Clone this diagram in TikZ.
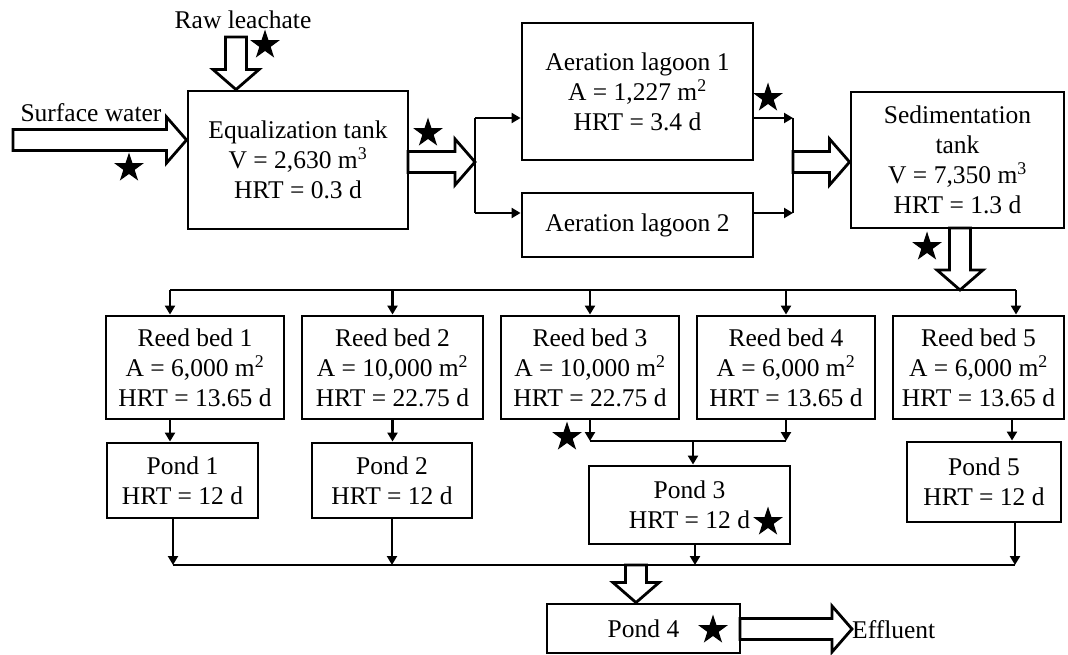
\documentclass[tikz,border=0pt]{standalone}
\usepackage{fontspec}
\setmainfont{Liberation Serif}
\usetikzlibrary{arrows.meta,calc,shapes.geometric}
\newcommand{\blkright}[2]{%
  \draw[blk] let \p1=(#1), \p2=(#2) in
    (\x1,\y1+10.5pt) -- (\x2-20pt,\y1+10.5pt) -- (\x2-20pt,\y1+23pt) -- (\x2,\y1)
    -- (\x2-20pt,\y1-23pt) -- (\x2-20pt,\y1-10.5pt) -- (\x1,\y1-10.5pt) -- cycle;}
\newcommand{\blkdown}[2]{%
  \draw[blk] let \p1=(#1), \p2=(#2) in
    (\x1-10.5pt,\y1) -- (\x1-10.5pt,\y2+20pt) -- (\x1-23pt,\y2+20pt) -- (\x1,\y2)
    -- (\x1+23pt,\y2+20pt) -- (\x1+10.5pt,\y2+20pt) -- (\x1+10.5pt,\y1) -- cycle;}
\begin{document}
\begin{tikzpicture}[x=1pt,y=-1pt,
  font=\fontsize{25.5}{30}\selectfont,
  box/.style={draw, line width=2.9pt, align=center, inner sep=0pt},
  conn/.style={line width=2.6pt, -{Triangle[length=9pt,width=10pt]}},
  plain/.style={line width=2.6pt},
  blk/.style={draw, line width=2.8pt, fill=white, line join=miter},
  starmark/.style={star, star points=5, star point ratio=2.6, fill=black, draw=none, inner sep=0pt, minimum size=31pt}
]
\useasboundingbox (0,0) rectangle (1068,655);

% boxes
\node[box, minimum width=220pt, minimum height=138pt] (eq) at (298,160) {Equalization tank\\V = 2,630 m\textsuperscript{3}\\HRT = 0.3 d};
\node[box, minimum width=231pt, minimum height=137pt] (lag1) at (637.5,91.5) {Aeration lagoon 1\\A = 1,227 m\textsuperscript{2}\\HRT = 3.4 d};
\node[box, minimum width=231pt, minimum height=64pt] (lag2) at (637.5,225) {Aeration lagoon 2};
\node[box, minimum width=213pt, minimum height=136pt] (sed) at (957.5,160) {Sedimentation\\tank\\V = 7,350 m\textsuperscript{3}\\HRT = 1.3 d};

\node[box, minimum width=178pt, minimum height=103pt] (rb1) at (195,367.5) {Reed bed 1\\A = 6,000 m\textsuperscript{2}\\HRT = 13.65 d};
\node[box, minimum width=181pt, minimum height=103pt] (rb2) at (392.5,367.5) {Reed bed 2\\A = 10,000 m\textsuperscript{2}\\HRT = 22.75 d};
\node[box, minimum width=178pt, minimum height=103pt] (rb3) at (590,367.5) {Reed bed 3\\A = 10,000 m\textsuperscript{2}\\HRT = 22.75 d};
\node[box, minimum width=178pt, minimum height=103pt] (rb4) at (786,367.5) {Reed bed 4\\A = 6,000 m\textsuperscript{2}\\HRT = 13.65 d};
\node[box, minimum width=171pt, minimum height=103pt] (rb5) at (978.5,367.5) {Reed bed 5\\A = 6,000 m\textsuperscript{2}\\HRT = 13.65 d};

\node[box, minimum width=151pt, minimum height=75pt] (p1) at (182.5,480.5) {Pond 1\\HRT = 12 d};
\node[box, minimum width=160pt, minimum height=75pt] (p2) at (392,480.5) {Pond 2\\HRT = 12 d};
\node[box, minimum width=201pt, minimum height=78pt] (p3) at (689.5,505) {Pond 3\\HRT = 12 d};
\node[box, minimum width=154pt, minimum height=80pt] (p5) at (984,482) {Pond 5\\HRT = 12 d};
\node[box, minimum width=193pt, minimum height=49pt] (p4) at (643.5,628.5) {Pond 4};

% free labels
\node (raw) at (243,20) {Raw leachate};
\node (surf) at (91,113) {Surface water};
\node[anchor=west, inner sep=0pt] (eff) at (852,630) {Effluent};

% coordinates
\coordinate (rawtop) at (236,37);
\coordinate (surfstart) at (13,140);
\coordinate (eqout) at (408,162);
\coordinate (br1) at (475,118);
\coordinate (br2) at (475,213);
\coordinate (mg1) at (793,118);
\coordinate (mg2) at (793,213);
\coordinate (mgmid) at (793,162);
\coordinate (sedout) at (960,228);
\coordinate (distL) at (170,290);
\coordinate (distR) at (1016,290);
\coordinate (m34L) at (590,441);
\coordinate (m34R) at (786,441);
\coordinate (m34) at (693,441);
\coordinate (r5o) at (1012,419);
\coordinate (busL) at (173,565);
\coordinate (busR) at (1015,565);
\coordinate (p3o) at (695,544);
\coordinate (p4in) at (636,565);
\coordinate (p4out) at (740,629);

% block arrows
\blkdown{rawtop}{rawtop |- eq.north}
\blkright{surfstart}{surfstart -| eq.west}
\blkright{eqout}{eqout -| br1}
\blkright{mgmid}{mgmid -| sed.west}
\blkdown{sedout}{sedout |- distL}
\blkdown{p4in}{p4in |- p4.north}
\blkright{p4out}{p4out -| eff.west}

% aeration split / merge
\draw[plain] (br1) -- (br2);
\draw[conn] (br1) -- (br1 -| lag1.west);
\draw[conn] (br2) -- (br2 -| lag2.west);
\draw[conn] (mg1 -| lag1.east) -- (mg1);
\draw[conn] (mg2 -| lag2.east) -- (mg2);
\draw[plain] (mg1) -- (mg2);

% distribution to reed beds
\draw[plain] (distL) -- (distR);
\draw[conn] (distL) -- (distL |- rb1.north);
\draw[conn] (rb2.north |- distL) -- (rb2.north);
\draw[conn] (rb3.north |- distL) -- (rb3.north);
\draw[conn] (rb4.north |- distL) -- (rb4.north);
\draw[conn] (distR) -- (distR |- rb5.north);

% reed beds to ponds
\draw[conn] (rb1.south -| distL) -- (p1.north -| distL);
\draw[conn] (rb2.south) -- (rb2.south |- p2.north);
\draw[conn] (rb3.south) -- (m34L);
\draw[conn] (rb4.south) -- (m34R);
\draw[plain] (m34L) -- (m34R);
\draw[conn] (m34) -- (m34 |- p3.north);
\draw[conn] (r5o) -- (r5o |- p5.north);

% ponds to collector
\draw[conn] (p1.south -| busL) -- (busL);
\draw[conn] (p2.south) -- (p2.south |- busL);
\draw[conn] (p3o) -- (p3o |- busL);
\draw[conn] (p5.south -| busR) -- (busR);
\draw[plain] (busL) -- (busR);

% stars
\node[starmark] (s1) at (265,45) {};
\node[starmark] (s2) at (129,168) {};
\node[starmark] (s3) at (428,133) {};
\node[starmark] (s4) at (768,98) {};
\node[starmark] (s5) at (927,247) {};
\node[starmark] (s6) at (567,437) {};
\node[starmark] (s7) at (768,522) {};
\node[starmark] (s8) at (713,630) {};
\end{tikzpicture}
\end{document}
